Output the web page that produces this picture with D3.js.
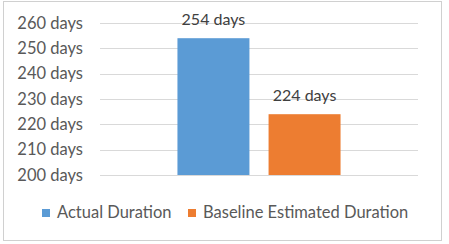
<!DOCTYPE html>
<html>
<head>
<meta charset="utf-8">
<script src="https://cdn.jsdelivr.net/npm/d3@7"></script>
<style>
  body { margin: 0; background: #fff; }
  svg { display: block; font-family: Lato, "Open Sans", sans-serif; }
</style>
</head>
<body>
<svg id="chart" width="449" height="244"></svg>
<script>
// 数据
const categories = ["Actual Duration", "Baseline Estimated Duration"];
const durations = [254, 224];
const tickValues = [200, 210, 220, 230, 240, 250, 260];
const colors = ["#5B9BD5", "#ED7D31"];

const svg = d3.select("#chart");
const W = 449, H = 244;
const margin = { top: 23, right: 31, bottom: 69, left: 100 };

// 外框
svg.append("rect")
  .attr("x", 3.5).attr("y", 1.5)
  .attr("width", 438).attr("height", 239)
  .attr("fill", "#fff")
  .attr("stroke", "#d0d0d0")
  .attr("stroke-width", 1);

const x = d3.scaleBand()
  .domain(categories)
  .range([margin.left, W - margin.right])
  .paddingInner(0.21)
  .paddingOuter(0.85);

const y = d3.scaleLinear()
  .domain([200, 260])
  .range([H - margin.bottom, margin.top]);

// 网格线
svg.append("g")
  .selectAll("line")
  .data(tickValues)
  .join("line")
  .attr("x1", margin.left).attr("x2", W - margin.right)
  .attr("y1", d => Math.round(y(d)) + 0.5)
  .attr("y2", d => Math.round(y(d)) + 0.5)
  .attr("stroke", "#d9d9d9")
  .attr("stroke-width", 1);

// y 轴标签
const yAxis = d3.axisLeft(y)
  .tickValues(tickValues)
  .tickSize(0)
  .tickPadding(0)
  .tickFormat(d => d + " days");

svg.append("g")
  .attr("transform", `translate(83,0)`)
  .call(yAxis)
  .call(g => g.select(".domain").remove())
  .call(g => g.selectAll("text")
    .attr("fill", "#595959")
    .attr("font-size", "16.5px")
    .attr("font-family", "Lato, 'Open Sans', sans-serif"));

// 柱子
svg.append("g")
  .selectAll("rect")
  .data(durations)
  .join("rect")
  .attr("x", (d, i) => x(categories[i]))
  .attr("y", d => y(d))
  .attr("width", x.bandwidth())
  .attr("height", d => y(200) - y(d))
  .attr("fill", (d, i) => colors[i]);

// 数值标签
svg.append("g")
  .selectAll("text")
  .data(durations)
  .join("text")
  .attr("x", (d, i) => x(categories[i]) + x.bandwidth() / 2)
  .attr("y", d => y(d) - 13)
  .attr("text-anchor", "middle")
  .attr("font-size", "16px")
  .attr("fill", "#404040")
  .text(d => d + " days");

// 图例
const legendY = 213;
const legendX = [42, 188];
const legend = svg.append("g")
  .selectAll("g")
  .data(categories)
  .join("g")
  .attr("transform", (d, i) => `translate(${legendX[i]},${legendY})`);

legend.append("rect")
  .attr("x", 0).attr("y", -4)
  .attr("width", 8).attr("height", 8)
  .attr("fill", (d, i) => colors[i]);

legend.append("text")
  .attr("x", 15)
  .attr("y", 4.5)
  .attr("font-size", "16.5px")
  .attr("fill", "#595959")
  .text(d => d);
</script>
</body>
</html>
